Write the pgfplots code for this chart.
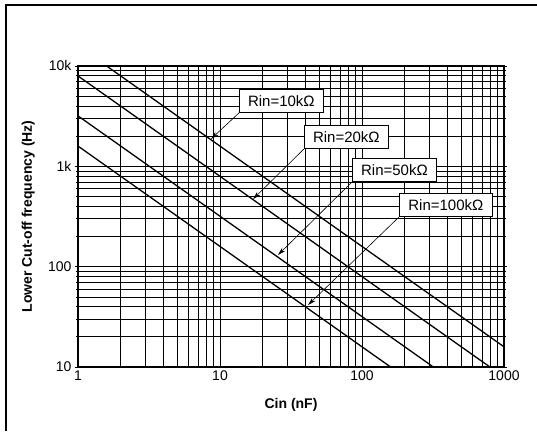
\documentclass[border=0pt]{standalone}
\usepackage{fontspec}
\setmainfont{Liberation Sans}
\usepackage{pgfplots}
\pgfplotsset{compat=1.18}
\usetikzlibrary{arrows.meta}
\begin{document}
\begin{tikzpicture}[x=1pt,y=1pt]
\path[use as bounding box] (0,0) rectangle (537,431);
\draw[line width=2.2pt] (6,0) -- (6,426) -- (537,426);
\begin{axis}[at={(78pt,64pt)}, anchor=south west, scale only axis,
  width=426pt, height=301pt,
  xmode=log, ymode=log, xmin=1, xmax=1000, ymin=10, ymax=10000,
  xtick={1,10,100,1000}, xticklabels={1,10,100,1000},
  ytick={10,100,1000,10000}, yticklabels={10,100,1k,10k},
  /pgf/number format/assume math mode=true,
  grid=both,
  major grid style={black, line width=0.7pt},
  minor grid style={black, line width=0.6pt},
  axis line style={line width=1.3pt},
  tick style={black, line width=0.6pt},
  major tick length=3pt, minor tick length=2pt,
  ytick align=outside,
  ticklabel style={font=\fontsize{14}{15}\selectfont},
  xlabel={Cin (nF)}, ylabel={Lower Cut-off frequency (Hz)},
  label style={font=\bfseries\fontsize{14}{15}\selectfont},
  xlabel style={at={(axis description cs:0.5,-0.126)}, anchor=center},
  ylabel style={at={(axis description cs:-0.117,0.5)}, anchor=center, rotate=0},
]
\addplot[black, line width=1.3pt] coordinates {(1.59,10000) (1000,15.9)};
\addplot[black, line width=1.3pt] coordinates {(1,7958) (796,10)};
\addplot[black, line width=1.3pt] coordinates {(1,3183) (318,10)};
\addplot[black, line width=1.3pt] coordinates {(1,1592) (159,10)};

\tikzset{lbl/.style={draw=black, line width=0.8pt, fill=white, anchor=south west,
  minimum width=84pt, minimum height=23pt, inner sep=0pt,
  font=\fontsize{15}{16}\selectfont},
  arr/.style={line width=0.6pt, -{Stealth[length=8pt,width=4.5pt]}}}
\draw[arr] (axis cs:13.6,3404) -- (axis cs:8.64,1872);
\draw[arr] (axis cs:39.0,1489) -- (axis cs:17.1,472);
\draw[arr] (axis cs:85.1,698) -- (axis cs:25.6,130.7);
\draw[arr] (axis cs:182.2,312.6) -- (axis cs:41.7,41.5);
\node[lbl] at (axis cs:13.6,3404) {Rin=10kΩ};
\node[lbl] at (axis cs:39.0,1489) {Rin=20kΩ};
\node[lbl] at (axis cs:85.1,698) {Rin=50kΩ};
\node[lbl, minimum width=93pt] at (axis cs:182.2,312.6) {Rin=100kΩ};
\end{axis}
\end{tikzpicture}
\end{document}
